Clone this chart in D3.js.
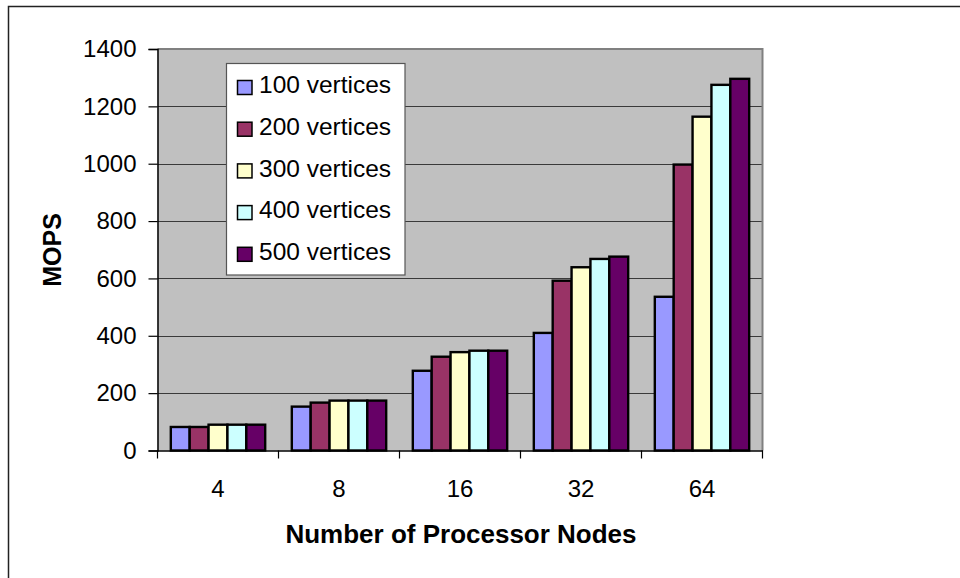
<!DOCTYPE html>
<html>
<head>
<meta charset="utf-8">
<script src="https://cdn.jsdelivr.net/npm/d3@7"></script>
<style>
  html, body { margin: 0; padding: 0; background: #fff; }
  svg { display: block; }
  text { font-family: "Liberation Sans", Arial, sans-serif; fill: #000; }
</style>
</head>
<body>
<svg id="chart" width="960" height="578"></svg>
<script>
// ---- data ----
const categories = ["4", "8", "16", "32", "64"];
const seriesNames = ["100 vertices", "200 vertices", "300 vertices", "400 vertices", "500 vertices"];
const v100 = [82, 153, 278, 410, 536];
const v200 = [82, 167, 327, 592, 997];
const v300 = [90, 174, 343, 639, 1164];
const v400 = [90, 174, 348, 668, 1275];
const v500 = [90, 174, 348, 676, 1296];
const yTicks = [0, 200, 400, 600, 800, 1000, 1200, 1400];
const colors = ["#9999ff", "#993366", "#ffffcc", "#ccffff", "#660066"];

const seriesValues = [v100, v200, v300, v400, v500];

// ---- layout ----
const svg = d3.select("#chart");
const plot = { left: 157.5, right: 762.5, top: 49, bottom: 450.5 };

// outer frame (extends beyond the picture on right and bottom)
svg.append("rect")
  .attr("x", 8.5).attr("y", 6.5)
  .attr("width", 1200).attr("height", 1200)
  .attr("fill", "none").attr("stroke", "#222").attr("stroke-width", 1.5);

const x0 = d3.scaleBand().domain(categories).range([plot.left, plot.right]).padding(0);
const groupW = x0.bandwidth() * 0.78;
const x1 = d3.scaleBand().domain(seriesNames).range([0, groupW]).padding(0);
const y = d3.scaleLinear().domain([0, 1400]).range([plot.bottom, plot.top]);

// plot area background
svg.append("rect")
  .attr("x", plot.left).attr("y", plot.top)
  .attr("width", plot.right - plot.left).attr("height", plot.bottom - plot.top)
  .attr("fill", "#c0c0c0");

// gridlines
svg.append("g").selectAll("line")
  .data(yTicks.filter(t => t > 0 && t < 1400))
  .join("line")
  .attr("x1", plot.left).attr("x2", plot.right)
  .attr("y1", d => Math.round(y(d)) + 0.5).attr("y2", d => Math.round(y(d)) + 0.5)
  .attr("stroke", "#3a3a3a").attr("stroke-width", 1);

// plot border top & right (gray)
svg.append("path")
  .attr("d", `M${plot.left},${plot.top}H${plot.right}V${plot.bottom}`)
  .attr("fill", "none").attr("stroke", "#808080").attr("stroke-width", 2);

// bars
const groups = svg.append("g").selectAll("g")
  .data(categories)
  .join("g")
  .attr("transform", d => `translate(${x0(d) + (x0.bandwidth() - groupW) / 2},0)`);

groups.selectAll("rect")
  .data((d, i) => seriesNames.map((s, j) => ({ s, j, v: seriesValues[j][i] })))
  .join("rect")
  .attr("x", d => x1(d.s))
  .attr("y", d => y(d.v))
  .attr("width", x1.bandwidth())
  .attr("height", d => y(0) - y(d.v))
  .attr("fill", d => colors[d.j])
  .attr("stroke", "#000")
  .attr("stroke-width", 2.4);

// y axis
const yAxis = d3.axisLeft(y).tickValues(yTicks).tickSize(9).tickPadding(12).tickFormat(d3.format("d"));
const gy = svg.append("g").attr("transform", `translate(${plot.left},0)`).call(yAxis);
gy.select(".domain").attr("stroke", "#000").attr("stroke-width", 1.5);
gy.selectAll(".tick line").attr("stroke", "#000").attr("stroke-width", 1.2);
gy.selectAll(".tick text")
  .style("font-family", "'Liberation Sans', Arial, sans-serif")
  .style("font-size", "24px").attr("fill", "#000");

// x axis
const xAxis = d3.axisBottom(x0).tickSize(0).tickPadding(0);
const gx = svg.append("g").attr("transform", `translate(0,${plot.bottom})`).call(xAxis);
gx.select(".domain").attr("stroke", "#000").attr("stroke-width", 1.5);
gx.selectAll(".tick text")
  .attr("y", 46.5).attr("dy", null)
  .style("font-family", "'Liberation Sans', Arial, sans-serif")
  .style("font-size", "24px").attr("fill", "#000");
// boundary tick marks between categories
gx.append("g").selectAll("line")
  .data(categories.map(c => x0(c)).concat([plot.right]))
  .join("line")
  .attr("x1", d => d).attr("x2", d => d)
  .attr("y1", 0).attr("y2", 8)
  .attr("stroke", "#000").attr("stroke-width", 1.2);

// axis titles
svg.append("text")
  .attr("x", (plot.left + plot.right) / 2 + 1).attr("y", 543)
  .attr("text-anchor", "middle")
  .style("font-size", "26px").style("font-weight", "bold")
  .text("Number of Processor Nodes");

svg.append("text")
  .attr("transform", `translate(61,250) rotate(-90)`)
  .attr("text-anchor", "middle")
  .style("font-size", "25px").style("font-weight", "bold")
  .text("MOPS");

// legend
const legend = svg.append("g");
legend.append("rect")
  .attr("x", 226.5).attr("y", 63.5).attr("width", 178.5).attr("height", 211.5)
  .attr("fill", "#fff").attr("stroke", "#555").attr("stroke-width", 1.2);

const items = legend.selectAll("g.item")
  .data(seriesNames)
  .join("g").attr("class", "item")
  .attr("transform", (d, i) => `translate(0,${i * 41.7})`);

items.append("rect")
  .attr("x", 237.5).attr("y", 80.5).attr("width", 14.5).attr("height", 14)
  .attr("fill", (d, i) => colors[i]).attr("stroke", "#000").attr("stroke-width", 1.5);

items.append("text")
  .attr("x", 259).attr("y", 93.3)
  .style("font-size", "24.5px")
  .text(d => d);
</script>
</body>
</html>
